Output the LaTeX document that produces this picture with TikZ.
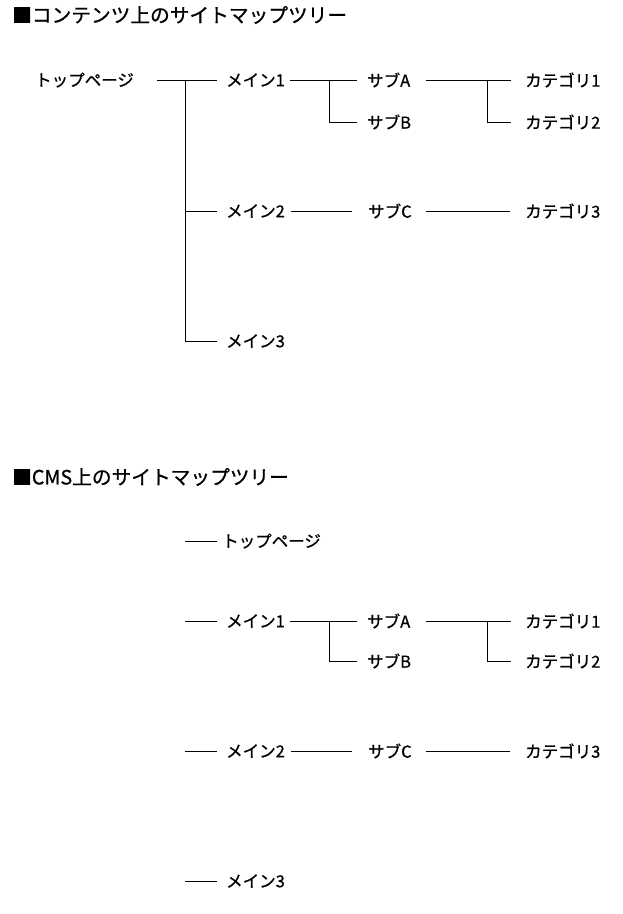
\documentclass[tikz,border=0pt]{standalone}
\usepackage{fontspec}
\setmainfont{Noto Sans CJK JP}
\newfontfamily\jpfont{Noto Sans CJK JP}[FakeBold=0.8]
\begin{document}
\begin{tikzpicture}[x=1pt,y=-1pt,
  lbl/.style={anchor=west,inner sep=0pt,font=\jpfont\fontsize{16.5}{16.5}\selectfont},
  ttl/.style={anchor=west,inner sep=0pt,font=\jpfont\fontsize{19.7}{19.7}\selectfont},
  conn/.style={draw=black,line width=1pt}]
\useasboundingbox (0,0) rectangle (623,914);
% ---------- section 1 ----------
\node[ttl] (t1) at (12,15) {■コンテンツ上のサイトマップツリー};
\node[lbl] (top) at (35,80) {トップページ};
\node[lbl] (m1) at (226,80) {メイン1};
\node[lbl] (sA) at (367,80) {サブA};
\node[lbl] (c1) at (525,80) {カテゴリ1};
\node[lbl] (sB) at (367,122) {サブB};
\node[lbl] (c2) at (525,122) {カテゴリ2};
\node[lbl] (m2) at (226,211) {メイン2};
\node[lbl] (sC) at (368,211) {サブC};
\node[lbl] (c3) at (525,211) {カテゴリ3};
\node[lbl] (m3) at (226,341) {メイン3};
\coordinate (j1) at (185,80);
\coordinate (j2) at (329,80);
\coordinate (j3) at (487,80);
\draw[conn] ([xshift=122pt]top.west) -- ([xshift=-9pt]m1.west);
\draw[conn] (j1) |- ([xshift=-9pt]m2.west);
\draw[conn] (j1) |- ([xshift=-9pt]m3.west);
\draw[conn] ([xshift=64pt]m1.west) -- ([xshift=-10pt]sA.west);
\draw[conn] (j2) |- ([xshift=-10pt]sB.west);
\draw[conn] ([xshift=59pt]sA.west) -- ([xshift=-14pt]c1.west);
\draw[conn] (j3) |- ([xshift=-14pt]c2.west);
\draw[conn] ([xshift=65pt]m2.west) -- ([xshift=-16pt]sC.west);
\draw[conn] ([xshift=58pt]sC.west) -- ([xshift=-15pt]c3.west);
% ---------- section 2 ----------
\node[ttl] (t2) at (12,477) {■CMS上のサイトマップツリー};
\node[lbl] (top2) at (222,541) {トップページ};
\node[lbl] (n1) at (226,621) {メイン1};
\node[lbl] (nA) at (367,621) {サブA};
\node[lbl] (d1) at (525,621) {カテゴリ1};
\node[lbl] (nB) at (367,661) {サブB};
\node[lbl] (d2) at (525,661) {カテゴリ2};
\node[lbl] (n2) at (226,751) {メイン2};
\node[lbl] (nC) at (368,751) {サブC};
\node[lbl] (d3) at (525,751) {カテゴリ3};
\node[lbl] (n3) at (226,881) {メイン3};
\coordinate (k0) at (185,541);
\coordinate (k1) at (185,621);
\coordinate (k2) at (185,751);
\coordinate (k3) at (185,881);
\coordinate (q2) at (329,621);
\coordinate (q3) at (487,621);
\draw[conn] (k0) -- ([xshift=-5pt]top2.west);
\draw[conn] (k1) -- ([xshift=-9pt]n1.west);
\draw[conn] (k2) -- ([xshift=-9pt]n2.west);
\draw[conn] (k3) -- ([xshift=-9pt]n3.west);
\draw[conn] ([xshift=64pt]n1.west) -- ([xshift=-10pt]nA.west);
\draw[conn] (q2) |- ([xshift=-10pt]nB.west);
\draw[conn] ([xshift=59pt]nA.west) -- ([xshift=-14pt]d1.west);
\draw[conn] (q3) |- ([xshift=-14pt]d2.west);
\draw[conn] ([xshift=65pt]n2.west) -- ([xshift=-16pt]nC.west);
\draw[conn] ([xshift=58pt]nC.west) -- ([xshift=-15pt]d3.west);
\end{tikzpicture}
\end{document}
